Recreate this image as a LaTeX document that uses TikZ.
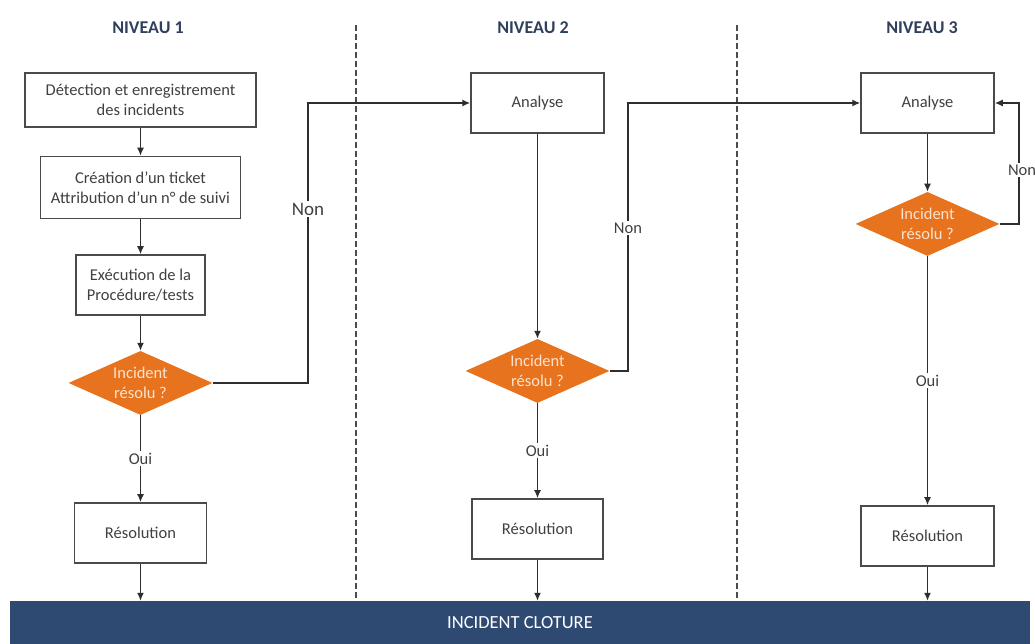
\documentclass[tikz,border=0pt]{standalone}
\usepackage{fontspec}
\setmainfont{Carlito}
\usetikzlibrary{positioning, arrows.meta, shapes.geometric, calc}
\definecolor{boxline}{HTML}{4A4A4A}
\definecolor{boxtext}{HTML}{404040}
\definecolor{decfill}{HTML}{E8731E}
\definecolor{dectext}{HTML}{FBE3CF}
\definecolor{barfill}{HTML}{2E4A72}
\definecolor{titletext}{HTML}{2F3F5C}
\definecolor{flowline}{HTML}{2E2E2E}
\tikzset{
  base/.style={
    draw=boxline,
    fill=white,
    align=center,
    text=boxtext,
    font=\fontsize{16.5}{20}\selectfont,
    line width=1.5pt,
    inner sep=2pt,
  },
  task/.style={base, minimum height=60pt},
  decision/.style={
    diamond,
    shape aspect=2.25,
    fill=decfill,
    align=center,
    text=dectext,
    font=\fontsize{16.5}{20}\selectfont,
    minimum width=144pt,
    minimum height=64pt,
    inner sep=0pt,
  },
  arr/.style={-{Latex[length=8pt, width=7pt]}, flowline, line width=1.4pt},
  edgelbl/.style={fill=white, text=boxtext, font=\fontsize{16.5}{20}\selectfont, inner sep=2pt},
  levelhead/.style={font=\fontsize{18}{22}\selectfont\bfseries, text=titletext},
  sepline/.style={dash pattern=on 6pt off 3pt, draw=black!70, line width=1.1pt},
}

\begin{document}
\begin{tikzpicture}[x=1pt, y=-1pt]
\useasboundingbox (0,0) rectangle (1035,644);

% Level headers and separators
\node[levelhead] (l1) at (148,28) {NIVEAU 1};
\node[levelhead] (l2) at (533,28) {NIVEAU 2};
\node[levelhead] (l3) at (922,28) {NIVEAU 3};
\draw[sepline] (356,25) -- (356,600);
\draw[sepline] (737,25) -- (737,600);

% Level 1
\node[base, minimum width=231pt, minimum height=54pt] (n01) at (140.5,100) {D\'etection et enregistrement\\des incidents};
\node[base, minimum width=200pt, minimum height=62pt, below=28pt of n01] (n02) {Cr\'eation d'un ticket\\Attribution d'un n\textdegree{} de suivi};
\node[task, minimum width=129pt, below=35pt of n02] (n03) {Ex\'ecution de la\\Proc\'edure/tests};
\node[decision, below=35pt of n03] (d01) {Incident\\r\'esolu ?};
\node[task, minimum width=132pt, below=87pt of d01] (r01) {R\'esolution};

% Level 2
\node[task, minimum width=133pt] (a02) at (537.5,103) {Analyse};
\node[decision, below=205pt of a02] (d02) {Incident\\r\'esolu ?};
\node[task, minimum width=131pt, below=95pt of d02] (r02) {R\'esolution};

% Level 3
\node[task, minimum width=133pt] (a03) at (927.5,103) {Analyse};
\node[decision, below=58pt of a03] (d03) {Incident\\r\'esolu ?};
\node[task, minimum width=133pt, below=249pt of d03] (r03) {R\'esolution};

% Closing bar
\node[fill=barfill, text=white, minimum width=1020pt, minimum height=44pt, inner sep=0pt,
  font=\fontsize{18.5}{22}\selectfont] (bar) at (520,623) {INCIDENT CLOTURE};

% --- Flow arrows -------------------------------------------------------
\foreach \a/\b in {n01/n02, n02/n03, n03/d01, a02/d02, a03/d03}
  {\draw[arr] (\a.south) -- (\b.north);}
\foreach \a/\b in {d01/r01, d02/r02, d03/r03}
  {\draw[arr] (\a.south) -- node[edgelbl] {Oui} (\b.north);}
\foreach \r in {r01, r02, r03}
  {\draw[arr] (\r.south) -- (\r.south |- bar.north);}

% Escalation (Non)
\coordinate (k1) at (308,209);
\coordinate (k2) at (628,228);
\coordinate (k3) at (1019,170);
\draw[arr] (d01.east) -| (k1) |- (a02.west);
\draw[arr] (d02.east) -| (k2) |- (a03.west);
\draw[arr] (d03.east) -| (k3) |- (a03.east);
\node[edgelbl, font=\fontsize{19}{22}\selectfont] (non1) at (k1) {Non};
\node[edgelbl] (non2) at (k2) {Non};
\node[edgelbl, inner xsep=1pt] (non3) at (1022,170) {Non};

\end{tikzpicture}
\end{document}
